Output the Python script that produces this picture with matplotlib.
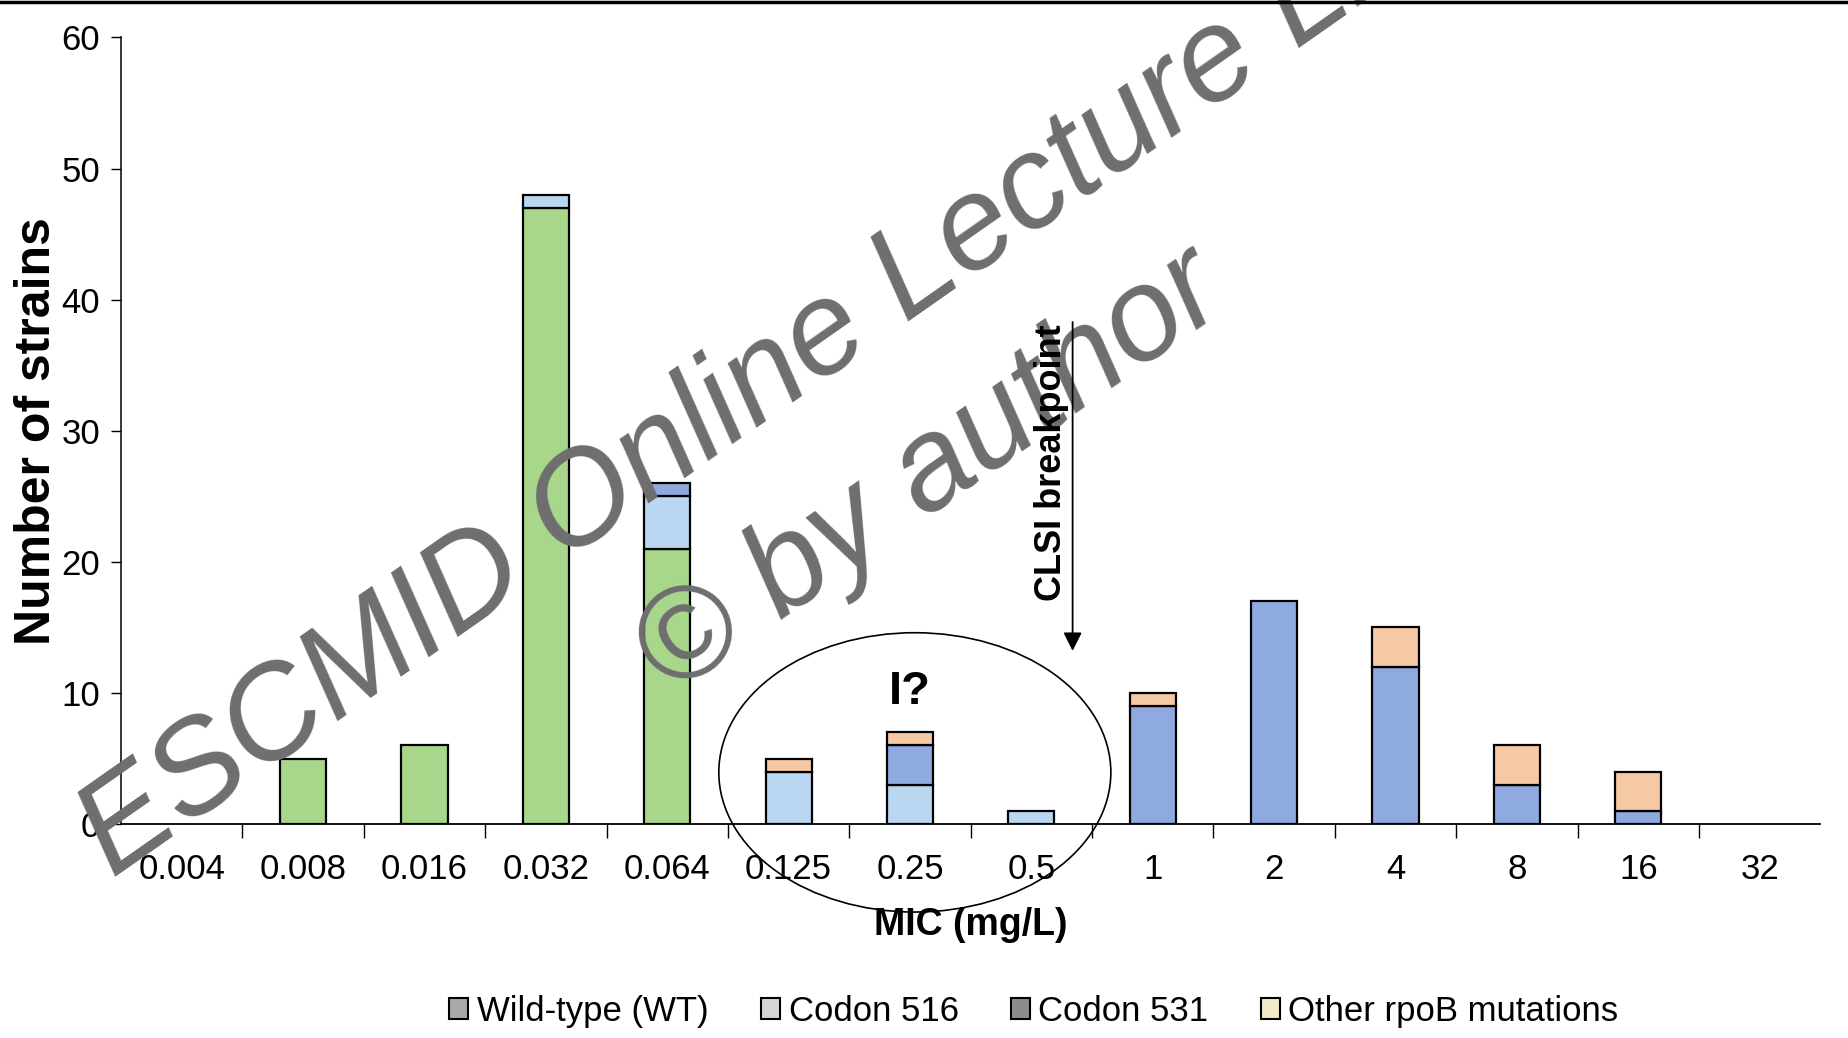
import matplotlib
matplotlib.use("Agg")
import matplotlib.pyplot as plt
from matplotlib.patches import Ellipse, Patch
from matplotlib.lines import Line2D
import numpy as np

# MIC categories (mg/L)
mic = ["0.004", "0.008", "0.016", "0.032", "0.064", "0.125", "0.25", "0.5",
       "1", "2", "4", "8", "16", "32"]

# number of strains per category and genotype
wild_type = [0, 5, 6, 47, 21, 0, 0, 0, 0, 0, 0, 0, 0, 0]
codon_516 = [0, 0, 0, 1, 4, 4, 3, 1, 0, 0, 0, 0, 0, 0]
codon_531 = [0, 0, 0, 0, 1, 0, 3, 0, 9, 17, 12, 3, 1, 0]
other_rpob = [0, 0, 0, 0, 0, 1, 1, 0, 1, 0, 3, 3, 3, 0]

series_names = ["Wild-type (WT)", "Codon 516", "Codon 531", "Other rpoB mutations"]

plt.rcParams['font.family'] = ["Liberation Sans", "DejaVu Sans"]

fig = plt.figure(figsize=(18.48, 10.38), dpi=100)
ax = fig.add_axes([0.0655, 0.206, 0.9195, 0.758])

x = np.arange(len(mic))
w = 0.38
cols = ["#a8d78c", "#b9d7f0", "#8eaadf", "#f5c9a3"]
bottom = np.zeros(len(mic))
for vals, c in zip([wild_type, codon_516, codon_531, other_rpob], cols):
    v = np.array(vals, dtype=float)
    m = v > 0  # skip empty segments, no outline for them
    ax.bar(x[m], v[m], w, bottom=bottom[m], color=c, edgecolor="black",
           linewidth=1.6, zorder=2)
    bottom += v

ax.set_xlim(-0.5, len(mic) - 0.5)
ax.set_ylim(0, 60)
ax.set_yticks(range(0, 61, 10))
ax.tick_params(axis='y', length=7, width=1, pad=8, labelsize=25)
ax.set_xticks(x)
ax.set_xticklabels(mic, fontsize=25)
ax.tick_params(axis='x', which='major', length=0, pad=21)
ax.set_xticks(x[:-1] + 0.5, minor=True)
ax.tick_params(axis='x', which='minor', length=10, width=1, direction='out')
for s in ["top", "right"]:
    ax.spines[s].set_visible(False)
ax.spines["left"].set_linewidth(1.1)
ax.spines["bottom"].set_linewidth(1.3)

ax.set_xlabel("MIC (mg/L)", fontsize=27, fontweight='bold', labelpad=15)
ax.set_ylabel("Number of strains", fontsize=36, fontweight='bold')
ax.yaxis.set_label_coords(-0.036, 0.5)

# intermediate zone
ax.add_patch(Ellipse((6.04, 3.95), 3.23, 21.3, fill=False, edgecolor="black",
                     linewidth=1.2, clip_on=False, zorder=3))
ax.text(6.0, 10.1, "I?", fontsize=34, fontweight='bold', ha='center', va='center',
        zorder=6)

# CLSI breakpoint
ax.annotate("", xy=(7.34, 13.0), xytext=(7.34, 38.5),
            arrowprops=dict(arrowstyle='-|>', color='black', lw=1.3, mutation_scale=28),
            zorder=6)
ax.text(7.17, 27.6, "CLSI breakpoint", rotation=90, fontsize=26, fontweight='bold',
        ha='center', va='center', zorder=6)

handles = [Patch(facecolor=c, edgecolor="black", linewidth=1.5)
           for c in ["#a9a9a9", "#d6d6d6", "#8c8c8c", "#f0ebc6"]]
fig.legend(handles, series_names, loc='center', bbox_to_anchor=(0.5595, 0.026),
           ncol=4, frameon=False, fontsize=25,
           handlelength=0.55, handleheight=0.55, handletextpad=0.25,
           columnspacing=1.5)

# watermark (over the bars, under the annotations)
ax.text(0.061, 0.153, "ESCMID Online Lecture Library", rotation=35,
        rotation_mode='anchor', ha='left', va='baseline', fontsize=95,
        style='italic', color='#6e6e6e', zorder=5, transform=fig.transFigure,
        clip_on=False)
ax.text(0.363, 0.328, "\u00a9 by author", rotation=35,
        rotation_mode='anchor', ha='left', va='baseline', fontsize=95,
        style='italic', color='#6e6e6e', zorder=5, transform=fig.transFigure,
        clip_on=False)

fig.add_artist(Line2D([0, 1], [0.998, 0.998], color='black', lw=2.5,
                      transform=fig.transFigure))

fig.savefig("out.png", dpi=100)
